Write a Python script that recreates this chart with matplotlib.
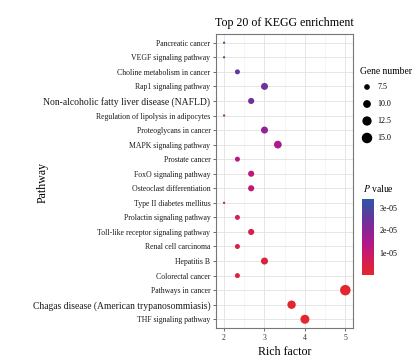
import numpy as np
import matplotlib
matplotlib.use("Agg")
import matplotlib.pyplot as plt
from matplotlib.colors import LinearSegmentedColormap, Normalize
from matplotlib.cm import ScalarMappable

plt.rcParams["mathtext.fontset"] = "stix"

pathways = [
    "Pancreatic cancer",
    "VEGF signaling pathway",
    "Choline metabolism in cancer",
    "Rap1 signaling pathway",
    "Non-alcoholic fatty liver disease (NAFLD)",
    "Regulation of lipolysis in adipocytes",
    "Proteoglycans in cancer",
    "MAPK signaling pathway",
    "Prostate cancer",
    "FoxO signaling pathway",
    "Osteoclast differentiation",
    "Type II diabetes mellitus",
    "Prolactin signaling pathway",
    "Toll-like receptor signaling pathway",
    "Renal cell carcinoma",
    "Hepatitis B",
    "Colorectal cancer",
    "Pathways in cancer",
    "Chagas disease (American trypanosommiasis)",
    "THF signaling pathway",
]
rich_factor = [2.0, 2.0, 2.33, 3.0, 2.67, 2.0, 3.0, 3.33, 2.33, 2.67,
               2.67, 2.0, 2.33, 2.67, 2.33, 3.0, 2.33, 5.0, 3.67, 4.0]
gene_number = [6, 6, 7, 9, 8, 6, 9, 10, 7, 8,
               8, 6, 7, 8, 7, 9, 7, 15, 11, 12]
p_value = [3.4e-05, 2.8e-05, 2.6e-05, 2.5e-05, 2.4e-05, 1.8e-05, 1.9e-05, 1.5e-05, 1.25e-05, 1.15e-05,
           1.1e-05, 0.9e-05, 0.7e-05, 0.6e-05, 0.45e-05, 0.35e-05, 0.3e-05, 0.12e-05, 0.06e-05, 0.02e-05]
size_breaks = [7.5, 10.0, 12.5, 15.0]
p_ticks = [1e-05, 2e-05, 3e-05]
x_ticks = [2, 3, 4, 5]

serif = "Liberation Serif"
W, H = 418, 362
fig = plt.figure(figsize=(W / 100, H / 100), dpi=100)

def fx(px):
    return px / W

def fy(py):
    return 1 - py / H

cmap = LinearSegmentedColormap.from_list(
    "rb", ["#E3272B", "#D21E55", "#B51787", "#8A2596", "#5A3C9E", "#2D58A6"])
norm = Normalize(vmin=min(p_value), vmax=max(p_value))

nmin, nmax = min(gene_number), max(gene_number)
def size_of(n):
    r = (np.asarray(n, dtype=float) - nmin) / (nmax - nmin)
    d_px = 1.65 * (1 + 5 * np.sqrt(np.clip(r, 0, 1))) + 0.6
    return (d_px * 0.72) ** 2

ax = fig.add_axes([fx(216), fy(328), fx(353) - fx(216), fy(34) - fy(328)])
n = len(pathways)
ypos = np.arange(n)[::-1]
ax.scatter(rich_factor, ypos, s=size_of(gene_number), c=p_value, cmap=cmap, norm=norm,
           edgecolors="none", zorder=3)
ax.set_xlim(1.8, 5.19)
ax.set_ylim(-0.6, n - 0.4)
ax.set_xticks(x_ticks)
ax.set_xticks([2.5, 3.5, 4.5], minor=True)
ax.set_yticks(ypos)
ax.set_yticklabels(pathways)
for lab in ax.get_yticklabels():
    t = lab.get_text()
    if t.startswith("Non-alcoholic") or t.startswith("Chagas"):
        lab.set_fontsize(6.9)
    else:
        lab.set_fontsize(5.6)
    lab.set_family(serif)
    lab.set_color("#1a1a1a")
for lab in ax.get_xticklabels():
    lab.set_fontsize(5.6)
    lab.set_family(serif)
    lab.set_color("#333333")
ax.grid(True, which="major", color="#E6E6E6", linewidth=0.7, zorder=0)
ax.grid(True, which="minor", axis="x", color="#F2F2F2", linewidth=0.5, zorder=0)
ax.set_axisbelow(True)
ax.tick_params(which="major", length=2.5, width=0.6, color="#555555", pad=1.5)
ax.tick_params(which="minor", length=0)
for sp in ax.spines.values():
    sp.set_color("#777777")
    sp.set_linewidth(0.8)

fig.text(fx(284), fy(23), "Top 20 of KEGG enrichment", ha="center", va="center",
         fontsize=8.6, family=serif)
fig.text(fx(285), fy(352), "Rich factor", ha="center", va="center",
         fontsize=8.6, family=serif)
fig.text(fx(43), fy(182), "Pathway", ha="center", va="center", rotation=90,
         fontsize=8.6, family=serif)

# size legend
fig.text(fx(360), fy(71), "Gene number", ha="left", va="center", fontsize=6.9, family=serif)
leg_y = [87, 104, 121, 138]
lax = fig.add_axes([0, 0, 1, 1], facecolor="none")
lax.set_xlim(0, W)
lax.set_ylim(H, 0)
lax.axis("off")
lax.scatter([367] * len(size_breaks), leg_y, s=size_of(size_breaks), color="black",
            edgecolors="none")
for v, yy in zip(size_breaks, leg_y):
    lax.text(377, yy, f"{v:.1f}", ha="left", va="center", fontsize=5.8, family=serif)

# colour legend
fig.text(fx(363), fy(188), "$\\it{P}$ value", ha="left", va="center", fontsize=6.9,
         family=serif)
cax = fig.add_axes([fx(362), fy(275), fx(374) - fx(362), fy(199) - fy(275)])
cb = fig.colorbar(ScalarMappable(norm=norm, cmap=cmap), cax=cax, ticks=p_ticks)
cb.outline.set_visible(False)
cb.ax.set_yticklabels([f"{t:.0e}" for t in p_ticks])
cb.ax.tick_params(length=2, color="white", labelsize=5.8, pad=2)
for lab in cb.ax.get_yticklabels():
    lab.set_family(serif)

fig.savefig("out.png", dpi=100)
